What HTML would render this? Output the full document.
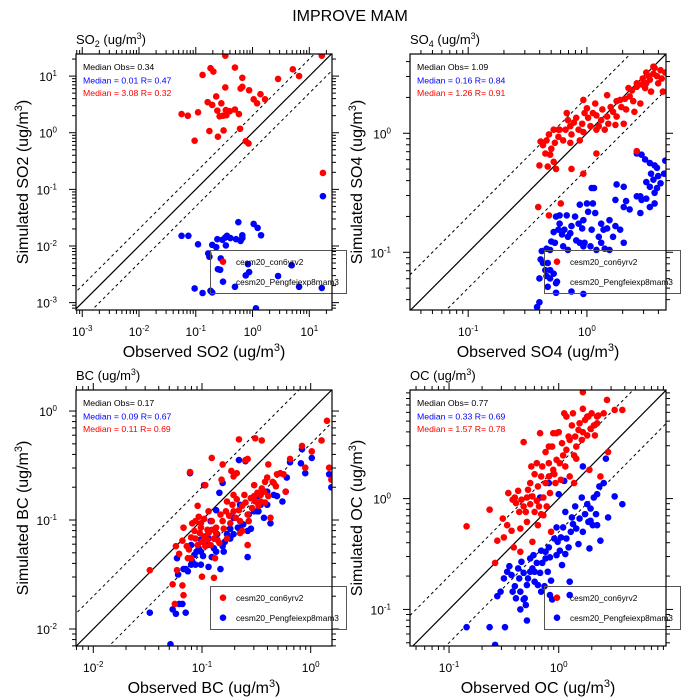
<!DOCTYPE html>
<html><head><meta charset="utf-8"><style>
html,body{margin:0;padding:0;background:#fff;overflow:hidden;width:700px;height:700px}
svg{display:block;font-family:"Liberation Sans",Arial,sans-serif}
</style></head><body>
<svg id="chart" width="700" height="700" viewBox="0 0 700 700" xmlns="http://www.w3.org/2000/svg">
<rect width="700" height="700" fill="#fff"/>
<text x="350" y="21" font-size="16" text-anchor="middle">IMPROVE MAM</text>
</svg>
<script>
// Data stored as log10 of concentration (ug/m3): observed (Obs) and simulated (Sim)
const so2RedObs=[-0.48,1.22,-0.88,-0.74,-0.69,-0.31,0.71,0.82,0.45,-0.18,-0.48,-0.21,-0.18,-0.06,0.14,0.02,0.08,0.22,-0.64,-0.79,-0.71,-0.55,-0.62,-0.47,-0.40,-0.31,-0.24,-0.46,-0.52,-0.58,-1.25,-1.14,-0.96,-0.76,-0.51,-0.61,-1.02,-0.22,-0.12,-0.07,1.24];
const so2RedSim=[1.36,1.36,1.02,1.14,1.08,1.15,1.12,1.00,0.95,0.97,0.80,0.78,0.81,0.75,0.68,0.59,0.52,0.59,0.64,0.54,0.49,0.52,0.39,0.40,0.38,0.41,0.33,0.31,0.30,0.29,0.33,0.30,0.36,0.03,0.04,-0.07,-0.14,0.07,-0.15,-0.19,-0.71];
const so2BlueObs=[1.24,-1.25,-1.13,-0.96,-0.71,-0.64,-0.62,-0.53,-0.48,-0.45,-0.39,-0.29,-0.25,-0.21,-0.18,-0.18,-0.47,0.02,0.09,0.15,-0.78,-0.76,-0.56,-0.61,-0.57,-0.08,-0.06,-0.12,0.45,0.69,-1.02,-0.88,-0.74,-0.71,-0.31,0.82,1.22,0.06];
const so2BlueSim=[-1.12,-1.82,-1.82,-1.97,-1.98,-2.02,-1.88,-1.89,-1.85,-1.82,-1.86,-1.88,-1.58,-1.91,-1.86,-1.81,-1.99,-1.61,-1.68,-1.81,-2.13,-2.19,-2.22,-2.41,-2.42,-2.32,-2.46,-2.52,-2.53,-2.34,-2.75,-2.83,-2.79,-2.82,-2.72,-2.72,-2.74,-3.10];

const so4RedObs=[-0.40,-0.39,-0.37,-0.34,-0.32,-0.35,-0.31,-0.28,-0.26,-0.30,-0.27,-0.24,-0.23,-0.20,-0.18,-0.17,-0.16,-0.14,-0.13,-0.11,-0.09,-0.07,-0.06,-0.04,-0.03,-0.02,0.00,0.01,0.03,0.05,0.07,0.08,0.10,0.12,0.13,0.15,0.17,0.18,0.20,0.22,0.24,0.25,0.28,0.29,0.31,0.32,0.35,0.36,0.38,0.39,0.40,0.42,0.45,0.46,0.47,0.49,0.50,0.52,0.53,0.54,0.56,0.57,0.59,0.60,0.62,0.63,0.64,0.66,0.08,-0.03,-0.13,-0.41,-0.32,-0.22,0.42,-0.24,-0.14,-0.28,-0.33,0.08,-0.03,0.17,0.25,0.33,0.42,0.50,0.56];
const so4RedSim=[-0.27,-0.07,-0.10,-0.06,-0.01,-0.17,-0.18,-0.24,-0.30,-0.13,-0.08,-0.03,0.03,-0.06,0.03,0.17,0.11,0.06,-0.01,0.09,0.13,0.03,-0.06,0.08,0.01,0.17,0.21,0.13,0.06,0.17,0.25,0.15,0.06,0.11,0.20,0.03,0.14,0.08,0.22,0.18,0.07,0.14,0.28,0.22,0.08,0.29,0.38,0.31,0.36,0.27,0.18,0.39,0.25,0.41,0.46,0.38,0.42,0.48,0.45,0.35,0.50,0.55,0.48,0.42,0.53,0.46,0.35,0.51,-0.17,-0.34,-0.30,-0.62,-0.69,-0.59,-0.15,0.03,-0.08,0.03,-0.28,0.03,0.28,0.32,0.27,0.20,0.42,0.51,0.56];
const so4BlueObs=[0.42,0.46,0.49,0.53,0.57,0.59,0.54,0.60,0.56,0.50,0.53,0.59,0.57,0.62,0.65,0.66,0.50,0.45,0.42,0.46,0.45,0.57,0.53,0.36,0.33,0.31,0.25,0.31,0.24,0.19,0.17,0.24,0.28,0.31,0.22,0.14,0.12,0.10,0.07,0.05,0.04,0.06,0.00,-0.06,0.01,-0.03,-0.04,-0.07,-0.10,-0.13,-0.14,-0.16,-0.19,-0.21,-0.23,-0.26,-0.24,-0.28,-0.30,-0.27,-0.31,-0.34,-0.38,-0.37,-0.33,-0.31,-0.28,-0.35,-0.34,-0.31,-0.26,-0.40,-0.39,-0.33,-0.26,-0.40,-0.42,-0.13,-0.03,-0.09,-0.03,0.03,0.08,0.15,0.19,0.04,0.12,-0.17,-0.23,-0.02,-0.06,-0.20,-0.16];
const so4BlueSim=[-0.17,-0.18,-0.22,-0.25,-0.27,-0.29,-0.34,-0.36,-0.39,-0.41,-0.45,-0.46,-0.50,-0.42,-0.34,-0.23,-0.55,-0.53,-0.53,-0.56,-0.67,-0.59,-0.62,-0.64,-0.57,-0.62,-0.43,-0.45,-0.56,-0.73,-0.80,-0.78,-0.81,-0.92,-0.87,-0.81,-0.92,-0.87,-0.67,-0.59,-0.46,-0.46,-0.59,-0.60,-0.66,-0.73,-0.80,-0.76,-0.70,-0.78,-0.84,-0.87,-0.81,-0.85,-0.76,-0.70,-0.81,-0.83,-0.91,-0.92,-0.98,-0.97,-0.99,-1.09,-1.09,-1.15,-1.18,-1.15,-1.20,-1.22,-1.26,-1.22,-1.06,-1.29,-1.34,-1.42,-1.46,-1.33,-1.35,-0.90,-0.95,-0.95,-0.98,-0.97,-0.98,-0.81,-0.76,-0.69,-0.69,-0.92,-0.92,-0.95,-0.98];

const bcRedObs=[-1.48,-1.27,-1.25,-1.18,-1.17,-1.23,-1.21,-1.24,-1.18,-1.17,-1.14,-1.12,-1.10,-1.09,-1.07,-1.06,-1.04,-1.03,-1.02,-1.01,-1.00,-0.98,-0.97,-0.95,-0.94,-0.92,-0.91,-0.89,-0.87,-0.86,-0.84,-0.83,-0.81,-0.80,-0.78,-0.77,-0.75,-0.74,-0.72,-0.71,-0.69,-0.68,-0.66,-0.65,-0.63,-0.61,-0.60,-0.58,-0.57,-0.55,-0.54,-0.52,-0.51,-0.49,-0.48,-0.46,-0.45,-0.43,-0.42,-0.40,-0.39,-0.37,-0.35,-0.34,-0.32,-0.31,-0.28,-0.23,-0.19,-0.08,-0.05,0.01,0.10,0.15,0.17,0.19,-0.66,-0.51,-0.45,-0.60,-0.58,-0.91,-1.11,-0.81,-0.73,-0.68,-0.71,-0.82,-0.97,-1.04,-0.98,-0.91,-0.63,-0.58,-0.88,-1.13,-1.00,-0.89,-0.71,-0.95,-1.06,-0.94,-0.52,-0.46,-0.42,-1.10,-1.01,-0.87,-0.77,-0.65,-0.39,-0.25];
const bcRedSim=[-1.46,-1.59,-1.77,-1.60,-1.69,-1.46,-1.31,-1.24,-1.19,-1.07,-1.24,-1.27,-1.16,-1.03,-1.10,-1.17,-1.23,-0.97,-1.12,-1.07,-1.20,-1.15,-1.24,-1.18,-1.12,-1.23,-1.09,-1.17,-1.07,-1.18,-1.21,-0.95,-1.01,-1.08,-0.92,-0.83,-0.96,-1.03,-0.86,-0.92,-0.98,-0.81,-0.91,-1.01,-0.87,-0.77,-0.84,-0.95,-1.01,-0.80,-0.89,-0.78,-0.83,-0.75,-0.87,-0.77,-0.71,-0.74,-0.84,-0.61,-0.78,-0.98,-0.65,-0.66,-0.69,-0.58,-0.57,-0.74,-0.44,-0.32,-0.52,-0.37,-0.27,-0.09,-0.52,-0.63,-0.26,-0.25,-0.27,-0.45,-0.44,-0.43,-0.56,-0.49,-0.55,-0.57,-0.60,-0.63,-0.68,-0.87,-0.99,-1.01,-1.10,-1.23,-1.35,-1.35,-1.52,-1.53,-0.77,-1.09,-1.01,-0.92,-0.68,-0.83,-0.65,-1.35,-1.03,-1.12,-1.17,-1.12,-0.49,-0.58];
const bcBlueObs=[-1.48,-1.29,-1.27,-1.24,-1.21,-1.18,-1.15,-1.23,-1.22,-1.17,-1.15,-1.10,-1.13,-1.09,-1.05,-1.03,-1.01,-0.99,-0.94,-0.91,-0.89,-0.83,-0.80,-0.79,-0.77,-0.74,-0.71,-0.67,-0.65,-0.62,-0.58,-0.58,-0.55,-0.52,-0.49,-0.48,-0.43,-0.40,-0.37,-0.34,-0.31,-0.26,-0.23,-0.22,-0.19,-0.09,-0.08,-0.05,0.01,0.17,0.19,-1.10,-1.07,-0.95,-0.92,-0.87,-0.84,-0.81,-0.66,-0.60,-0.98,-1.11,-1.01,-0.94,-0.87,-0.81,-0.71,-0.65,-0.55,-0.46,-0.40,-1.01,-1.06,-0.86,-0.74,-0.49,-0.57];
const bcBlueSim=[-1.85,-2.14,-1.82,-1.86,-1.77,-1.77,-1.85,-1.35,-1.50,-1.45,-1.45,-1.41,-1.47,-1.38,-1.29,-1.26,-1.41,-1.33,-1.43,-1.34,-1.26,-1.45,-1.29,-1.20,-1.13,-1.08,-0.98,-1.07,-1.07,-1.04,-1.34,-1.10,-1.08,-0.92,-0.92,-0.92,-0.98,-0.86,-1.03,-0.77,-0.78,-0.83,-0.74,-0.61,-0.47,-0.48,-0.35,-0.57,-0.43,-0.58,-0.70,-1.23,-1.32,-1.23,-1.01,-0.91,-0.75,-0.66,-0.45,-0.46,-0.68,-0.57,-1.18,-1.17,-1.29,-1.24,-1.13,-0.86,-0.80,-0.86,-0.74,-1.29,-1.41,-1.13,-1.17,-0.78,-0.95];

const ocRedObs=[-0.84,-0.63,-0.58,-0.56,-0.51,-0.50,-0.47,-0.46,-0.43,-0.42,-0.40,-0.39,-0.37,-0.36,-0.35,-0.34,-0.32,-0.32,-0.30,-0.29,-0.28,-0.26,-0.26,-0.24,-0.22,-0.22,-0.20,-0.19,-0.18,-0.17,-0.16,-0.16,-0.15,-0.14,-0.12,-0.12,-0.11,-0.09,-0.09,-0.08,-0.06,-0.05,-0.04,-0.03,-0.02,-0.02,0.00,0.01,0.02,0.03,0.04,0.05,0.06,0.07,0.09,0.10,0.10,0.12,0.13,0.14,0.15,0.16,0.18,0.19,0.21,0.22,0.22,0.24,0.26,0.26,0.27,0.29,0.30,0.32,0.33,0.35,0.36,0.41,0.44,0.45,0.51,0.58,0.38,0.14,0.28,-0.07,-0.19,-0.24,-0.35,-0.41,-0.29,-0.14,-0.05,0.07,0.16,0.22,0.35,-0.20,-0.25,-0.09];
const ocRedSim=[-0.25,-0.10,-0.58,-0.38,-0.18,-0.35,-0.24,0.05,-0.29,-0.01,0.01,-0.04,0.07,-0.12,-0.27,-0.01,-0.07,0.51,-0.12,0.01,0.08,0.14,-0.05,0.02,-0.12,0.22,-0.02,0.11,-0.07,0.59,0.20,-0.14,0.29,0.01,0.42,0.14,-0.07,0.47,0.32,0.05,0.47,0.26,0.22,0.14,0.35,0.59,0.60,0.32,0.17,0.50,0.39,0.77,0.29,0.44,0.56,0.20,0.53,0.66,0.77,0.39,0.56,0.36,0.62,0.68,0.53,0.96,0.81,0.71,0.74,0.57,0.74,0.63,0.77,0.66,0.57,0.74,0.75,0.77,0.89,0.42,0.80,0.80,0.20,0.14,0.26,-0.30,-0.24,-0.39,-0.48,-0.44,-0.21,-0.15,0.59,0.74,0.47,0.60,0.68,0.32,0.29,0.20];
const ocBlueObs=[-0.84,-0.63,-0.58,-0.49,-0.56,-0.53,-0.50,-0.47,-0.45,-0.43,-0.42,-0.40,-0.39,-0.37,-0.36,-0.35,-0.34,-0.32,-0.31,-0.30,-0.29,-0.28,-0.26,-0.26,-0.24,-0.23,-0.22,-0.20,-0.19,-0.17,-0.16,-0.15,-0.13,-0.12,-0.10,-0.09,-0.08,-0.07,-0.06,-0.04,-0.02,-0.01,0.00,0.01,0.02,0.03,0.04,0.05,0.06,0.07,0.09,0.10,0.11,0.12,0.13,0.15,0.16,0.18,0.19,0.21,0.22,0.24,0.26,0.27,0.28,0.29,0.31,0.32,0.34,0.35,0.35,0.37,0.38,0.41,0.43,0.45,0.51,0.58,-0.29,-0.35,-0.32,-0.16,-0.08,0.10,-0.17,-0.09,-0.22,-0.12,-0.02,0.06,0.22,0.29];
const ocBlueSim=[-1.16,-1.16,-1.32,-1.16,-0.88,-0.84,-0.72,-0.66,-0.61,-0.69,-0.84,-0.79,-0.90,-0.63,-0.72,-0.84,-0.57,-0.67,-0.90,-0.96,-0.78,-0.72,-0.54,-0.66,-0.63,-0.51,-0.75,-0.58,-0.78,-0.67,-0.47,-0.58,-0.79,-0.48,-0.66,-0.44,-0.53,-0.74,-0.91,-0.36,-0.26,-0.39,0.04,-0.47,-0.35,-0.60,-0.26,0.16,-0.12,-0.36,-0.44,-0.75,-0.30,-0.17,-0.23,-0.07,-0.27,-0.41,-0.18,0.01,0.29,-0.14,-0.05,-0.21,-0.45,-0.20,-0.24,0.01,-0.14,0.04,-0.24,0.11,-0.38,0.14,0.36,-0.17,0.02,-0.05,-1.10,-1.00,-0.91,-0.84,-0.87,-0.87,0.01,0.14,-0.66,-0.54,-0.51,-0.50,-0.30,-0.09];

const panels=[
 {key:'so2',x0:76,y0:54,xr:[-3.11,1.40],yr:[-3.13,1.39],title:['SO','2'],xt:'Observed SO2',yt:'Simulated SO2',obs:'0.34',blue:'Median = 0.01 R= 0.47',red:'Median = 3.08 R= 0.32',rx:so2RedObs,ry:so2RedSim,bx:so2BlueObs,by:so2BlueSim},
 {key:'so4',x0:410,y0:54,xr:[-1.49,0.666],yr:[-1.485,0.666],title:['SO','4'],xt:'Observed SO4',yt:'Simulated SO4',obs:'1.09',blue:'Median = 0.16 R= 0.84',red:'Median = 1.26 R= 0.91',rx:so4RedObs,ry:so4RedSim,bx:so4BlueObs,by:so4BlueSim},
 {key:'bc',x0:76,y0:390,xr:[-2.159,0.196],yr:[-2.156,0.193],title:['BC',''],xt:'Observed BC',yt:'Simulated BC',obs:'0.17',blue:'Median = 0.09 R= 0.67',red:'Median = 0.11 R= 0.69',rx:bcRedObs,ry:bcRedSim,bx:bcBlueObs,by:bcBlueSim},
 {key:'oc',x0:410,y0:390,xr:[-1.356,0.978],yr:[-1.33,0.98],title:['OC',''],xt:'Observed OC',yt:'Simulated OC',obs:'0.77',blue:'Median = 0.33 R= 0.69',red:'Median = 1.57 R= 0.78',rx:ocRedObs,ry:ocRedSim,bx:ocBlueObs,by:ocBlueSim}
];
const S=256, NS='http://www.w3.org/2000/svg';
const svg=document.getElementById('chart');
function mk(tag,attrs,parent){const e=document.createElementNS(NS,tag);for(const k in attrs)e.setAttribute(k,attrs[k]);(parent||svg).appendChild(e);return e;}
function sup(t,base,exp){const a=document.createElementNS(NS,'tspan');a.textContent=base;t.appendChild(a);const b=document.createElementNS(NS,'tspan');b.setAttribute('dy','-5');b.setAttribute('font-size','8');b.textContent=exp;t.appendChild(b);}
panels.forEach(p=>{
 const g=mk('g',{});
 
 
 const X=v=>p.x0+(v-p.xr[0])/(p.xr[1]-p.xr[0])*S;
 const Y=v=>p.y0+S-(v-p.yr[0])/(p.yr[1]-p.yr[0])*S;
 for(let d=Math.floor(p.xr[0]);d<=Math.ceil(p.xr[1]);d++){
  for(let m=1;m<=9;m++){
   const v=d+Math.log10(m); if(v<p.xr[0]||v>p.xr[1])continue;
   const L=m===1?7:4, px=X(v);
   mk('line',{x1:px,x2:px,y1:p.y0+S,y2:p.y0+S+L,stroke:'#000','stroke-width':1},g);
   mk('line',{x1:px,x2:px,y1:p.y0,y2:p.y0-L,stroke:'#000','stroke-width':1},g);
   if(m===1){const t=mk('text',{x:px,y:p.y0+S+26,'font-size':12,'text-anchor':'middle'},g);sup(t,'10',String(d));
    }
  }
 }
 for(let d=Math.floor(p.yr[0]);d<=Math.ceil(p.yr[1]);d++){
  for(let m=1;m<=9;m++){
   const v=d+Math.log10(m); if(v<p.yr[0]||v>p.yr[1])continue;
   const L=m===1?7:4, py=Y(v);
   mk('line',{x1:p.x0,x2:p.x0-L,y1:py,y2:py,stroke:'#000','stroke-width':1},g);
   mk('line',{x1:p.x0+S,x2:p.x0+S+L,y1:py,y2:py,stroke:'#000','stroke-width':1},g);
   if(m===1){const t=mk('text',{x:p.x0-19,y:py+5,'font-size':12,'text-anchor':'end'},g);sup(t,'10',String(d));
    }
  }
 }
 const cp=mk('clipPath',{id:'clip-'+p.key},g);mk('rect',{x:p.x0,y:p.y0,width:S,height:S},cp);
 const inner=mk('g',{'clip-path':'url(#clip-'+p.key+')'},g);
 const lo=Math.min(p.xr[0],p.yr[0])-1, hi=Math.max(p.xr[1],p.yr[1])+1;
 const one=mk('line',{x1:X(lo),y1:Y(lo),x2:X(hi),y2:Y(hi),stroke:'#000','stroke-width':1.2},inner);
 
 [Math.log10(2),-Math.log10(2)].forEach(o=>{const l=mk('line',{x1:X(lo),y1:Y(lo+o),x2:X(hi),y2:Y(hi+o),stroke:'#000','stroke-width':1,'stroke-dasharray':'3,3'},inner);
  });
 const lg=mk('g',{},g);
 
 
 mk('rect',{x:p.x0+134.5,y:p.y0+196.5,width:136,height:43,fill:'none',stroke:'#555','stroke-width':1},lg);
 [['#ff0000','cesm20_con6yrv2',207.7],['#0000ff','cesm20_Pengfeiexp8mam3',227.7]].forEach(e=>{
  const c=mk('circle',{cx:p.x0+147,cy:p.y0+e[2],r:3.3,fill:e[0]},lg);
  
  const t=mk('text',{x:p.x0+160,y:p.y0+e[2]+3.5,'font-size':8.3,fill:'#000'},lg);t.textContent=e[1];
  
 });
 p.bx.forEach((v,i)=>{const c=mk('circle',{cx:X(v),cy:Y(p.by[i]),r:3.3,fill:'#0000ff'},inner);
  });
 p.rx.forEach((v,i)=>{const c=mk('circle',{cx:X(v),cy:Y(p.ry[i]),r:3.3,fill:'#ff0000'},inner);
  });
 mk('rect',{x:p.x0,y:p.y0,width:S,height:S,fill:'none',stroke:'#000','stroke-width':1.2},g);
 [['Median Obs= '+p.obs,'#000',16],[p.blue,'#0000ff',29.5],[p.red,'#ff0000',42]].forEach(s=>{
  const t=mk('text',{x:p.x0+7,y:p.y0+s[2],'font-size':8.7,fill:s[1]},g);t.textContent=s[0];
  });
 const tt=mk('text',{x:p.x0,y:p.y0-10,'font-size':13},g);
 const a=document.createElementNS(NS,'tspan');a.textContent=p.title[0];tt.appendChild(a);
 if(p.title[1]){const b=document.createElementNS(NS,'tspan');b.setAttribute('font-size','9');b.setAttribute('dy','3');b.textContent=p.title[1];tt.appendChild(b);
  const c2=document.createElementNS(NS,'tspan');c2.setAttribute('dy','-3');c2.textContent=' (ug/m';tt.appendChild(c2);}
 else{const c2=document.createElementNS(NS,'tspan');c2.textContent=' (ug/m';tt.appendChild(c2);}
 const e3=document.createElementNS(NS,'tspan');e3.setAttribute('font-size','9');e3.setAttribute('dy','-5');e3.textContent='3';tt.appendChild(e3);
 const e4=document.createElementNS(NS,'tspan');e4.setAttribute('dy','5');e4.textContent=')';tt.appendChild(e4);
 
 const xt=mk('text',{x:p.x0+S/2,y:p.y0+S+47,'font-size':16,'text-anchor':'middle'},g);
 xt.innerHTML=p.xt+' (ug/m<tspan font-size="11" dy="-6">3</tspan><tspan dy="6">)</tspan>';
 
 const cy=p.y0+S/2, cx=p.x0-48;
 const yt=mk('text',{x:cx,y:cy,'font-size':16,'text-anchor':'middle',transform:'rotate(-90 '+cx+' '+cy+')'},g);
 yt.innerHTML=p.yt+' (ug/m<tspan font-size="11" dy="-6">3</tspan><tspan dy="6">)</tspan>';
 
});
</script>
</body></html>
